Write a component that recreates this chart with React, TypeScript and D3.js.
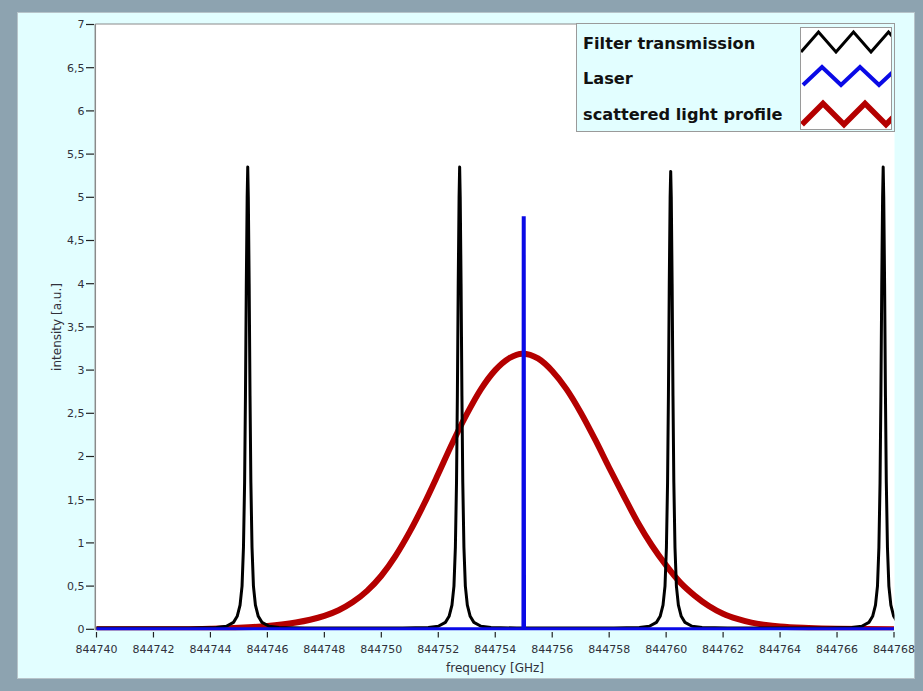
import React from 'react';
import * as d3 from 'd3';

// Page and plot geometry
const WIDTH = 923;
const HEIGHT = 691;
const PLOT_LEFT = 96.5;
const PLOT_RIGHT = 894;
const PLOT_TOP = 24.5;
const PLOT_BOTTOM = 629.3;

// Axis ticks
const X_TICKS = [844740, 844742, 844744, 844746, 844748, 844750, 844752, 844754, 844756, 844758, 844760, 844762, 844764, 844766, 844768];
const Y_TICKS = [0, 0.5, 1, 1.5, 2, 2.5, 3, 3.5, 4, 4.5, 5, 5.5, 6, 6.5, 7];
const Y_TICK_LABELS = ['0', '0,5', '1', '1,5', '2', '2,5', '3', '3,5', '4', '4,5', '5', '5,5', '6', '6,5', '7'];

// Filter transmission: comb of identical peaks (centre, apex) sharing one line shape
const FILTER_PEAK_CENTERS = [844745.31, 844752.75, 844760.16, 844767.62];
const FILTER_PEAK_HEIGHTS = [5.35, 5.35, 5.3, 5.35];
const FILTER_PROFILE_OFFSETS = [0.02, 0.05, 0.08, 0.11, 0.15, 0.2, 0.27, 0.37, 0.5, 0.75, 1.1, 2.0, 3.6];
const FILTER_PROFILE_VALUES = [5.0, 4.0, 2.7, 1.7, 0.95, 0.5, 0.28, 0.15, 0.08, 0.035, 0.02, 0.015, 0.014];
const FILTER_START = [844740, 0.014];

// Laser line
const LASER_FREQ = [844740, 844754.99, 844755.0, 844755.01, 844768];
const LASER_INTENSITY = [0, 0, 4.78, 0, 0];

// Scattered light profile
const SCATTER_FREQ = [844740, 844743, 844744, 844745, 844745.5, 844746, 844746.5, 844747, 844747.5, 844748, 844748.5, 844749, 844749.5, 844750, 844750.5, 844751, 844751.5, 844752, 844752.5, 844753, 844753.5, 844754, 844754.5, 844754.95, 844755.5, 844756, 844756.5, 844757, 844757.5, 844758, 844758.5, 844759, 844759.5, 844760, 844760.5, 844761, 844761.5, 844762, 844762.5, 844763, 844763.5, 844764, 844765, 844766, 844768];
const SCATTER_INTENSITY = [0, 0.002, 0.007, 0.017, 0.026, 0.038, 0.055, 0.078, 0.11, 0.155, 0.22, 0.315, 0.445, 0.62, 0.85, 1.13, 1.45, 1.8, 2.16, 2.49, 2.78, 3.0, 3.14, 3.19, 3.135, 2.99, 2.78, 2.51, 2.2, 1.87, 1.55, 1.24, 0.97, 0.74, 0.54, 0.39, 0.27, 0.18, 0.12, 0.077, 0.05, 0.032, 0.015, 0.006, 0];

// Legend
const SERIES_NAMES = ['Filter transmission', 'Laser', 'scattered light profile'];
const SERIES_COLORS = ['#000000', '#0a0ae6', '#b40000'];
const SERIES_WIDTHS = [3, 4, 6];

type Pt = [number, number];

function filterPoints(): Pt[] {
  const pts: Pt[] = [[FILTER_START[0], FILTER_START[1]]];
  FILTER_PEAK_CENTERS.forEach((c, k) => {
    for (let i = FILTER_PROFILE_OFFSETS.length - 1; i >= 0; i--) {
      pts.push([c - FILTER_PROFILE_OFFSETS[i], FILTER_PROFILE_VALUES[i]]);
    }
    pts.push([c, FILTER_PEAK_HEIGHTS[k]]);
    for (let i = 0; i < FILTER_PROFILE_OFFSETS.length; i++) {
      pts.push([c + FILTER_PROFILE_OFFSETS[i], FILTER_PROFILE_VALUES[i]]);
    }
  });
  return pts;
}

const zip = (xs: number[], ys: number[]): Pt[] => xs.map((x, i) => [x, ys[i]]);

function LegendZigzag({ x0, x1, yc, amp, half, color, width }: { x0: number; x1: number; yc: number; amp: number; half: number; color: string; width: number }) {
  const pts: Pt[] = [];
  let up = false;
  for (let x = x0; x <= x1 + half; x += half) {
    pts.push([x, up ? yc - amp / 2 : yc + amp / 2]);
    up = !up;
  }
  const d = d3.line()(pts) || '';
  return <path d={d} fill="none" stroke={color} strokeWidth={width} strokeLinejoin="miter" clipPath="url(#legendClip)" />;
}

export default function App() {
  const x = d3.scaleLinear().domain([844740, 844768]).range([PLOT_LEFT, PLOT_RIGHT]);
  const y = d3.scaleLinear().domain([0, 7]).range([PLOT_BOTTOM, PLOT_TOP]);

  const linear = d3.line<Pt>().x((d) => x(d[0])).y((d) => y(d[1]));
  const smooth = d3.line<Pt>().x((d) => x(d[0])).y((d) => y(d[1])).curve(d3.curveMonotoneX);

  const filterPath = linear(filterPoints()) || '';
  const laserPath = linear(zip(LASER_FREQ, LASER_INTENSITY)) || '';
  const scatterPath = smooth(zip(SCATTER_FREQ, SCATTER_INTENSITY)) || '';

  const font = "'DejaVu Sans', Verdana, sans-serif";
  const textColor = '#30303a';

  const legendRows = [
    { yc: 42, amp: 20, half: 17.5, start: 801 },
    { yc: 76, amp: 18, half: 19, start: 803 },
    { yc: 114, amp: 21, half: 21, start: 802 },
  ];
  const legendTextY = [48.5, 84, 120];

  return (
    <svg width={WIDTH} height={HEIGHT} style={{ position: 'absolute', left: 0, top: 0, display: 'block' }}>
      <defs>
        <clipPath id="plotClip">
          <rect x={PLOT_LEFT - 0.5} y={PLOT_TOP} width={PLOT_RIGHT - PLOT_LEFT + 1} height={PLOT_BOTTOM - PLOT_TOP + 1} />
        </clipPath>
        <clipPath id="legendClip">
          <rect x={801} y={28} width={90} height={101} />
        </clipPath>
      </defs>

      {/* window frame and panel */}
      <rect x={0} y={0} width={WIDTH} height={HEIGHT} fill="#8da3b0" />
      <rect x={17.5} y={12.5} width={897} height={666} fill="#e2feff" stroke="#b7c4ca" strokeWidth={1} />

      {/* plot area */}
      <rect x={PLOT_LEFT - 1} y={PLOT_TOP - 0.5} width={PLOT_RIGHT - PLOT_LEFT + 1.5} height={PLOT_BOTTOM - PLOT_TOP + 1} fill="#ffffff" />
      <line x1={PLOT_LEFT - 1.2} x2={PLOT_LEFT - 1.2} y1={PLOT_TOP - 0.5} y2={PLOT_BOTTOM + 1} stroke="#8a8a8a" strokeWidth={1.5} />
      <line x1={PLOT_LEFT - 1.2} x2={PLOT_RIGHT + 1} y1={PLOT_TOP - 0.5} y2={PLOT_TOP - 0.5} stroke="#8a8a8a" strokeWidth={1} />

      {/* y axis */}
      <g fontFamily={font} fontSize={11} fill={textColor}>
        {Y_TICKS.map((t, i) => (
          <g key={t}>
            <line x1={86} x2={94} y1={y(t)} y2={y(t)} stroke="#222" strokeWidth={1.2} />
            <text x={84.5} y={y(t)} dy="0.36em" textAnchor="end">{Y_TICK_LABELS[i]}</text>
          </g>
        ))}
      </g>

      {/* x axis */}
      <g fontFamily={font} fontSize={11} fill={textColor}>
        {X_TICKS.map((t) => (
          <g key={t}>
            <line x1={x(t)} x2={x(t)} y1={632} y2={637.5} stroke="#222" strokeWidth={1.2} />
            <text x={x(t)} y={653} textAnchor="middle">{t}</text>
          </g>
        ))}
      </g>

      {/* axis titles */}
      <text x={495} y={671.5} textAnchor="middle" fontFamily={font} fontSize={12} fill={textColor}>frequency [GHz]</text>
      <text transform={`translate(61,327) rotate(-90)`} textAnchor="middle" fontFamily={font} fontSize={12} fill={textColor}>intensity [a.u.]</text>

      {/* series */}
      <g clipPath="url(#plotClip)" fill="none" strokeLinejoin="round">
        <path d={scatterPath} stroke={SERIES_COLORS[2]} strokeWidth={SERIES_WIDTHS[2]} />
        <path d={filterPath} stroke={SERIES_COLORS[0]} strokeWidth={SERIES_WIDTHS[0]} />
        <path d={laserPath} stroke={SERIES_COLORS[1]} strokeWidth={SERIES_WIDTHS[1]} strokeLinejoin="miter" />
      </g>

      {/* legend */}
      <rect x={576.5} y={23.5} width={318} height={108} fill="#e2feff" stroke="#9a9a9a" strokeWidth={1} />
      <rect x={800.5} y={27.5} width={91} height={102} fill="#ffffff" stroke="#9a9a9a" strokeWidth={1} />
      {SERIES_NAMES.map((name, i) => (
        <text key={name} x={583} y={legendTextY[i]} fontFamily={font} fontWeight="bold" fontSize={16.2} fill="#111">{name}</text>
      ))}
      {legendRows.map((r, i) => (
        <LegendZigzag key={i} x0={r.start} x1={891} yc={r.yc} amp={r.amp} half={r.half} color={SERIES_COLORS[i]} width={SERIES_WIDTHS[i] - (i === 2 ? 0.5 : 0)} />
      ))}
    </svg>
  );
}
